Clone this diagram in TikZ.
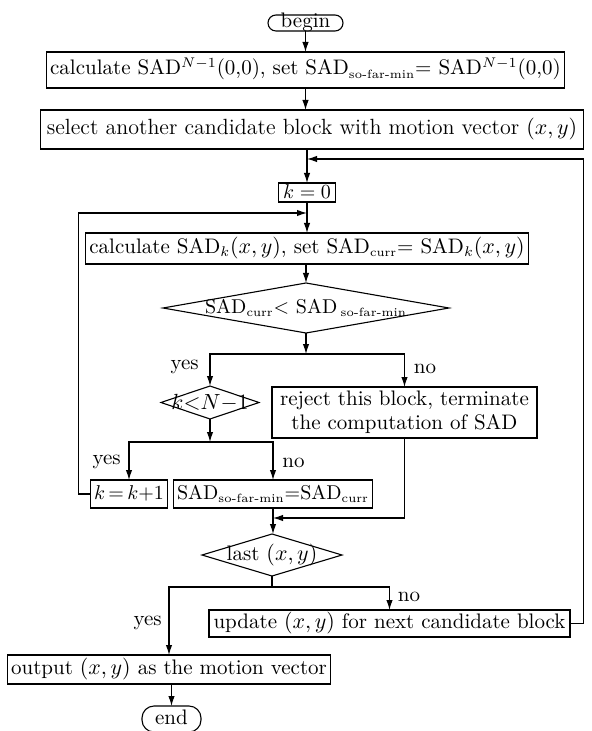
\documentclass[tikz,border=0pt]{standalone}
\usepackage{amsmath}
\usepackage{tikz}
\usetikzlibrary{arrows.meta, positioning, shapes.geometric}

% small subscript text
\newcommand{\subtxt}[1]{\ensuremath{_{\mbox{\fontsize{6pt}{7pt}\selectfont #1}}}}

\begin{document}
\begin{tikzpicture}[
      x=1pt, y=-1pt,
      font=\fontsize{10.5}{12}\selectfont,
      box/.style={draw, line width=0.55pt, outer sep=0pt, inner xsep=2pt, inner ysep=1pt, align=center,
        text height=7.5pt, text depth=2.5pt},
      decision/.style={draw, diamond, line width=0.55pt, outer sep=0pt, inner sep=0pt},
      term/.style={draw, line width=0.55pt, outer sep=0pt, rounded corners=4pt, inner xsep=3pt, inner ysep=0pt,
        text height=6.5pt, text depth=1.5pt},
      lbl/.style={inner sep=0pt},
      arrow/.style={-{Latex[length=5pt, width=3.2pt]}, line width=0.55pt},
      line/.style={line width=0.55pt}
    ]
    \useasboundingbox (0,0) rectangle (295.5,365.5);

    % main column
    \node[term, minimum width=37.5pt, minimum height=8pt] (begin) at (152.75,11.5) {begin};
    \node[box, minimum width=247pt, minimum height=18pt] (box1) [below=10.5pt of begin]
      {calculate SAD$^{N-1}$(0,0), set SAD\subtxt{so-far-min}= SAD$^{N-1}$(0,0)};
    \node[box, minimum width=271.5pt, minimum height=19.5pt, font=\fontsize{11}{13}\selectfont] (box2) [below=11pt of box1, xshift=3.25pt]
      {select another candidate block with motion vector $(x,y)$};
    \node[box, minimum width=28.5pt, minimum height=9.5pt, inner ysep=0pt, text height=7pt, text depth=1pt,
      font=\fontsize{10}{12}\selectfont] (k0) [below=17pt of box2, xshift=-2.5pt] {$k=0$};
    \node[box, minimum width=209pt, minimum height=15.5pt] (calc) [below=15.5pt of k0]
      {calculate SAD$_k(x,y)$, set SAD\subtxt{curr}= SAD$_k(x,y)$};
    \node[decision, minimum width=143pt, minimum height=25pt, font=\fontsize{10}{12}\selectfont] (d1) [below=9.5pt of calc, xshift=-0.5pt]
      {\makebox[0pt]{SAD\subtxt{curr}< SAD\,\subtxt{so-far-min}}};

    % branches
    \node[decision, minimum width=49pt, minimum height=16.5pt] (d2) [below=26.5pt of d1, xshift=-48pt]
      {\makebox[0pt]{$k{<}N{-}1$}};
    \node[box, minimum width=132.5pt, minimum height=25.5pt, text height=, text depth=] (reject) [below=27pt of d1, xshift=49.25pt]
      {reject this block, terminate\\the computation of SAD};
    \node[box, minimum width=36pt, minimum height=14pt, font=\fontsize{10}{12}\selectfont] (k1) [below=30.5pt of d2, xshift=-40.5pt]
      {$k\,{=}\,k{+}1$};
    \node[box, minimum width=96pt, minimum height=14pt, font=\fontsize{10}{12}\selectfont] (sad) [below=30.5pt of d2, xshift=31.5pt]
      {SAD\subtxt{so-far-min}=SAD\subtxt{curr}};
    \node[decision, minimum width=70pt, minimum height=21pt] (d3) [below=13pt of sad, xshift=-0.5pt]
      {\makebox[0pt]{last $(x,y)$}};
    \node[box, minimum width=180.5pt, minimum height=13.5pt] (update) [below=17pt of d3, xshift=58.75pt]
      {update $(x,y)$ for next candidate block};
    \node[box, minimum width=157pt, minimum height=14.5pt] (output) [below=39.5pt of d3, xshift=-51.5pt]
      {output $(x,y)$ as the motion vector};
    \node[term, minimum width=29.5pt, minimum height=13pt, rounded corners=6pt] (end) [below=11pt of output, xshift=1.25pt] {end};

    % junctions
    \coordinate (m1) at ([yshift=-5pt]box2.south -| k0.north);
    \coordinate (m2) at ([yshift=-5.5pt]k0.south);
    \coordinate (s1) at ([yshift=-10.5pt]d1.south);
    \coordinate (s2) at ([yshift=-11.5pt]d2.south);
    \coordinate (m3) at ([yshift=-5pt]sad.south);
    \coordinate (s3) at ([yshift=-5.5pt]d3.south);

    \draw[arrow] (begin) -- (begin |- box1.north);
    \draw[arrow] (box1) -- (box1 |- box2.north);
    \draw[arrow] (k0.north |- box2.south) -- (k0);
    \draw[arrow] (k0) -- (k0 |- calc.north);
    \draw[arrow] (d1.north |- calc.south) -- (d1);
    \draw[arrow] (d1) -- (s1);
    \draw[arrow] (s1) -| (d2);
    \draw[arrow] (s1) -| (reject);
    \draw[arrow] (d2) -- (s2);
    \draw[arrow] (s2) -| (k1);
    \draw[arrow] (s2) -| (sad);
    \draw[arrow] (k1.west) -- ++(-6pt,0) |- (m2);
    \draw[arrow] (sad) -- (sad |- d3.north);
    \draw[arrow] (reject) |- (m3);
    \draw[line] (d3) -- (s3);
    \draw[arrow] (s3) -| (output);
    \draw[arrow] (s3) -| (update);
    \draw[arrow] (update.east) -| (box2.east |- m1) -- (m1);
    \draw[arrow] (output.south -| end.north) -- (end);

    % labels
    \node[lbl, anchor=east] (yes1) at ([xshift=-5.5pt, yshift=9.5pt]d2.north) {yes};
    \node[lbl, anchor=west] (no1) at ([xshift=4.5pt, yshift=9pt]reject.north) {no};
    \node[lbl, anchor=east] (yes2) at ([xshift=-4pt, yshift=9pt]k1.north) {yes};
    \node[lbl, anchor=west] (no2) at ([xshift=4.5pt, yshift=8.5pt]sad.north) {no};
    \node[lbl, anchor=west] (no3) at ([xshift=4pt, yshift=6.5pt]update.north) {no};
    \node[lbl, anchor=east] (yes3) at ([xshift=-3.5pt, yshift=16pt]output.north) {yes};

\end{tikzpicture}
\end{document}
